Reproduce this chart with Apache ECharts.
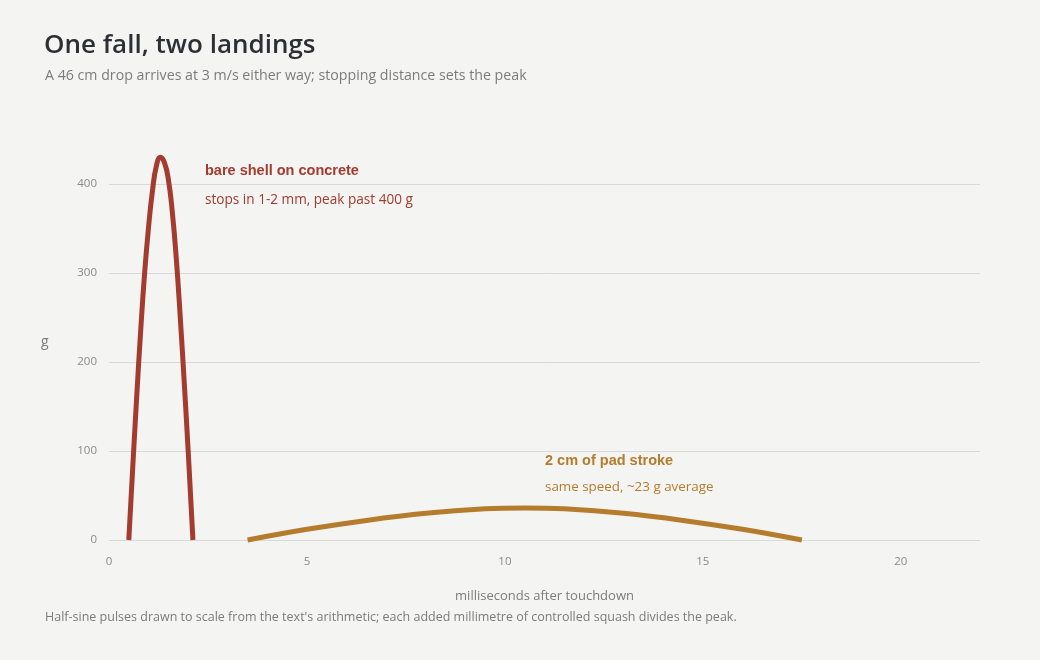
<!DOCTYPE html>
<html><head><meta charset="utf-8">
<script src="https://cdn.jsdelivr.net/npm/echarts@6/dist/echarts.min.js"></script>
<style>html,body{margin:0;padding:0;background:#f4f4f2;}#c{width:1040px;height:660px;}</style>
</head><body><div id="c"></div>
<script>
// milliseconds after touchdown, g
const concreteT = [0.5, 0.6, 0.7, 0.8, 0.9, 1.0, 1.1, 1.2, 1.3, 1.4, 1.5, 1.6, 1.7, 1.8, 1.9, 2.0, 2.12];
const concreteG = [0, 82, 161, 235, 300, 352, 393, 421, 430, 424, 405, 368, 316, 250, 177, 100, 0];
const padT = [3.5, 5, 6.5, 8, 9.5, 10.5, 11.5, 13, 14.5, 16, 17.5];
const padG = [0, 12, 22, 30, 35, 36, 35, 30, 22, 12, 0];
const xTicks = [0, 5, 10, 15, 20];
const yTicks = [0, 100, 200, 300, 400];

const RED = '#a33b2f', ORANGE = '#b67c2d';
const FONT = '"Open Sans", "Noto Sans", sans-serif';
const chart = echarts.init(document.getElementById('c'));
chart.setOption({
  backgroundColor: '#f4f4f2',
  animation: false,
  title: [
    {text: 'One fall, two landings', left: 44, top: 33, padding: 0,
     textStyle: {fontFamily: FONT, fontSize: 26, fontWeight: 600, color: '#2e2f36'}},
    {text: 'A 46 cm drop arrives at 3 m/s either way; stopping distance sets the peak', left: 45, top: 69, padding: 0,
     textStyle: {fontFamily: FONT, fontSize: 14.2, fontWeight: 'normal', color: '#7c7c7c'}},
    {text: "Half-sine pulses drawn to scale from the text's arithmetic; each added millimetre of controlled squash divides the peak.",
     left: 45, top: 611, padding: 0, textStyle: {fontFamily: FONT, fontSize: 12.5, fontWeight: 'normal', color: '#7c7c7c'}}
  ],
  grid: {left: 109, right: 60, top: 184, bottom: 120},
  xAxis: {
    type: 'value', min: 0, max: 22, interval: 5,
    name: 'milliseconds after touchdown', nameLocation: 'middle', nameGap: 50,
    nameTextStyle: {fontFamily: FONT, fontSize: 13, color: '#7c7c7c'},
    axisLine: {show: false}, axisTick: {show: false}, splitLine: {show: false},
    axisLabel: {showMaxLabel: false, fontFamily: FONT, fontSize: 11.5, color: '#8a8a8a', margin: 16,
      formatter: v => xTicks.includes(v) ? String(v) : ''}
  },
  yAxis: {
    type: 'value', min: 0, max: 400, interval: 100,
    axisLine: {show: false}, axisTick: {show: false},
    splitLine: {lineStyle: {color: '#d9d9d7', width: 1}},
    axisLabel: {fontFamily: FONT, fontSize: 11.5, color: '#8a8a8a', margin: 12,
      formatter: v => yTicks.includes(v) ? String(v) : ''}
  },
  series: [
    {type: 'line', name: 'bare shell on concrete', data: concreteT.map((t, i) => [t, concreteG[i]]),
     smooth: 0.5, showSymbol: false, clip: false, lineStyle: {color: RED, width: 5}},
    {type: 'line', name: '2 cm of pad stroke', data: padT.map((t, i) => [t, padG[i]]),
     smooth: 0.4, showSymbol: false, clip: false, lineStyle: {color: ORANGE, width: 5}}
  ],
  graphic: [
    {type: 'text', left: 41, top: 335, style: {text: 'g', fill: '#7c7c7c', font: '14px ' + FONT}},
    {type: 'text', left: 205, top: 163, style: {text: 'bare shell on concrete', fill: RED,
      font: 'bold 14.5px "Liberation Sans", Arial, sans-serif'}},
    {type: 'text', left: 205, top: 193, style: {text: 'stops in 1-2 mm, peak past 400 g', fill: RED,
      font: '13.6px ' + FONT}},
    {type: 'text', left: 545, top: 453, style: {text: '2 cm of pad stroke', fill: ORANGE,
      font: 'bold 14.5px "Liberation Sans", Arial, sans-serif'}},
    {type: 'text', left: 545, top: 481, style: {text: 'same speed, ~23 g average', fill: ORANGE,
      font: '13.4px ' + FONT}}
  ]
});
</script></body></html>
